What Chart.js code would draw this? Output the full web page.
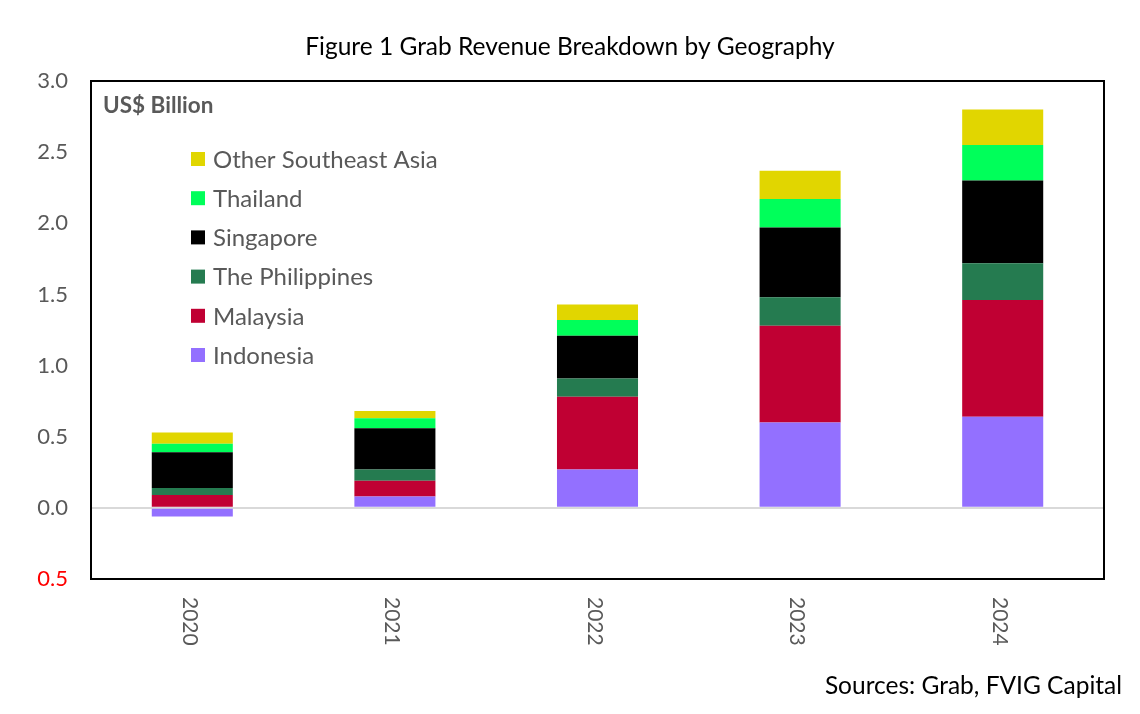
<!DOCTYPE html>
<html>
<head>
<meta charset="utf-8">
<script src="https://cdn.jsdelivr.net/npm/chart.js@4.4.1/dist/chart.umd.min.js"></script>
<style>
html,body{margin:0;padding:0;background:#fff;}
canvas{display:block;}
</style>
</head>
<body>
<canvas id="c" width="1140" height="714"></canvas>
<script>
const years = ['2020', '2021', '2022', '2023', '2024'];
const indonesia   = [-0.06, 0.08, 0.27, 0.60, 0.64];
const malaysia    = [0.09, 0.11, 0.51, 0.68, 0.82];
const philippines = [0.05, 0.08, 0.13, 0.20, 0.26];
const singapore   = [0.25, 0.29, 0.30, 0.49, 0.58];
const thailand    = [0.06, 0.07, 0.11, 0.20, 0.25];
const otherSEA    = [0.08, 0.05, 0.11, 0.20, 0.25];
const yTickValues = [-0.5, 0, 0.5, 1.0, 1.5, 2.0, 2.5, 3.0];
const titleText = 'Figure 1 Grab Revenue Breakdown by Geography';
const unitText = 'US$ Billion';
const sourceText = 'Sources: Grab, FVIG Capital';

const FONT = 'Lato, "Open Sans", sans-serif';
const GRAY = '#595959';

const series = [
  {label: 'Indonesia', data: indonesia, color: '#9370FF'},
  {label: 'Malaysia', data: malaysia, color: '#C00033'},
  {label: 'The Philippines', data: philippines, color: '#257B50'},
  {label: 'Singapore', data: singapore, color: '#000000'},
  {label: 'Thailand', data: thailand, color: '#00FF5A'},
  {label: 'Other Southeast Asia', data: otherSEA, color: '#E1D600'}
];

const decor = {
  id: 'decor',
  afterDatasetsDraw(chart) {
    const ctx = chart.ctx;
    const a = chart.chartArea;
    const xs = chart.scales.x;
    ctx.save();
    ctx.strokeStyle = '#000';
    ctx.lineWidth = 2;
    ctx.strokeRect(a.left, a.top, a.right - a.left, a.bottom - a.top);
    ctx.textBaseline = 'middle';
    // title
    ctx.fillStyle = '#000';
    ctx.font = '24.5px ' + FONT;
    ctx.textAlign = 'center';
    ctx.fillText(titleText, 570, 47);
    // unit label
    ctx.fillStyle = GRAY;
    ctx.font = 'bold 22.5px ' + FONT;
    ctx.textAlign = 'left';
    ctx.fillText(unitText, 103, 106);
    // legend (reverse order)
    ctx.font = '24px ' + FONT;
    const ds = chart.data.datasets.slice().reverse();
    ds.forEach((d, i) => {
      const y = 159 + i * 39.2;
      ctx.fillStyle = d.backgroundColor;
      ctx.fillRect(191, y - 7, 14, 14);
      ctx.fillStyle = GRAY;
      ctx.fillText(d.label, 213, y + 1);
    });
    // x labels rotated clockwise
    ctx.font = '21px ' + FONT;
    ctx.fillStyle = GRAY;
    chart.data.labels.forEach((lab, i) => {
      const x = xs.getPixelForValue(i);
      ctx.save();
      ctx.translate(x - 3, a.bottom + 18);
      ctx.rotate(Math.PI / 2);
      ctx.textAlign = 'left';
      ctx.textBaseline = 'middle';
      ctx.fillText(lab, 0, 0);
      ctx.restore();
    });
    // source
    ctx.fillStyle = '#000';
    ctx.font = '24.5px ' + FONT;
    ctx.textAlign = 'right';
    ctx.fillText(sourceText, 1122, 686);
    ctx.restore();
  }
};

new Chart(document.getElementById('c'), {
  type: 'bar',
  data: {
    labels: years,
    datasets: series.map(s => ({
      label: s.label,
      data: s.data,
      backgroundColor: s.color,
      borderWidth: 0,
      categoryPercentage: 1.0,
      barPercentage: 0.4
    }))
  },
  options: {
    responsive: false,
    animation: false,
    devicePixelRatio: 1,
    layout: {padding: {top: 81, right: 36, bottom: 55, left: 0}},
    plugins: {legend: {display: false}, title: {display: false}, tooltip: {enabled: false}},
    scales: {
      x: {
        stacked: true,
        grid: {display: false, drawTicks: false},
        border: {display: false},
        ticks: {display: true, color: 'rgba(0,0,0,0)', maxRotation: 90, minRotation: 90, font: {size: 19, family: FONT}},
        afterFit(scale) { scale.height = 80; }
      },
      y: {
        stacked: true,
        min: -0.5,
        max: 3.0,
        afterBuildTicks(scale) { scale.ticks = yTickValues.map(v => ({value: v})); },
        grid: {
          drawTicks: false,
          lineWidth: 2,
          color: (c) => (c.tick && c.tick.value === 0) ? '#D9D9D9' : 'rgba(0,0,0,0)'
        },
        border: {display: false},
        ticks: {
          padding: 23,
          font: {size: 22, family: FONT},
          color: (c) => (c.tick && c.tick.value < 0) ? '#FF0000' : GRAY,
          callback: (v) => Math.abs(v).toFixed(1)
        },
        afterFit(scale) { scale.width = 91; }
      }
    }
  },
  plugins: [decor]
});
</script>
</body>
</html>
